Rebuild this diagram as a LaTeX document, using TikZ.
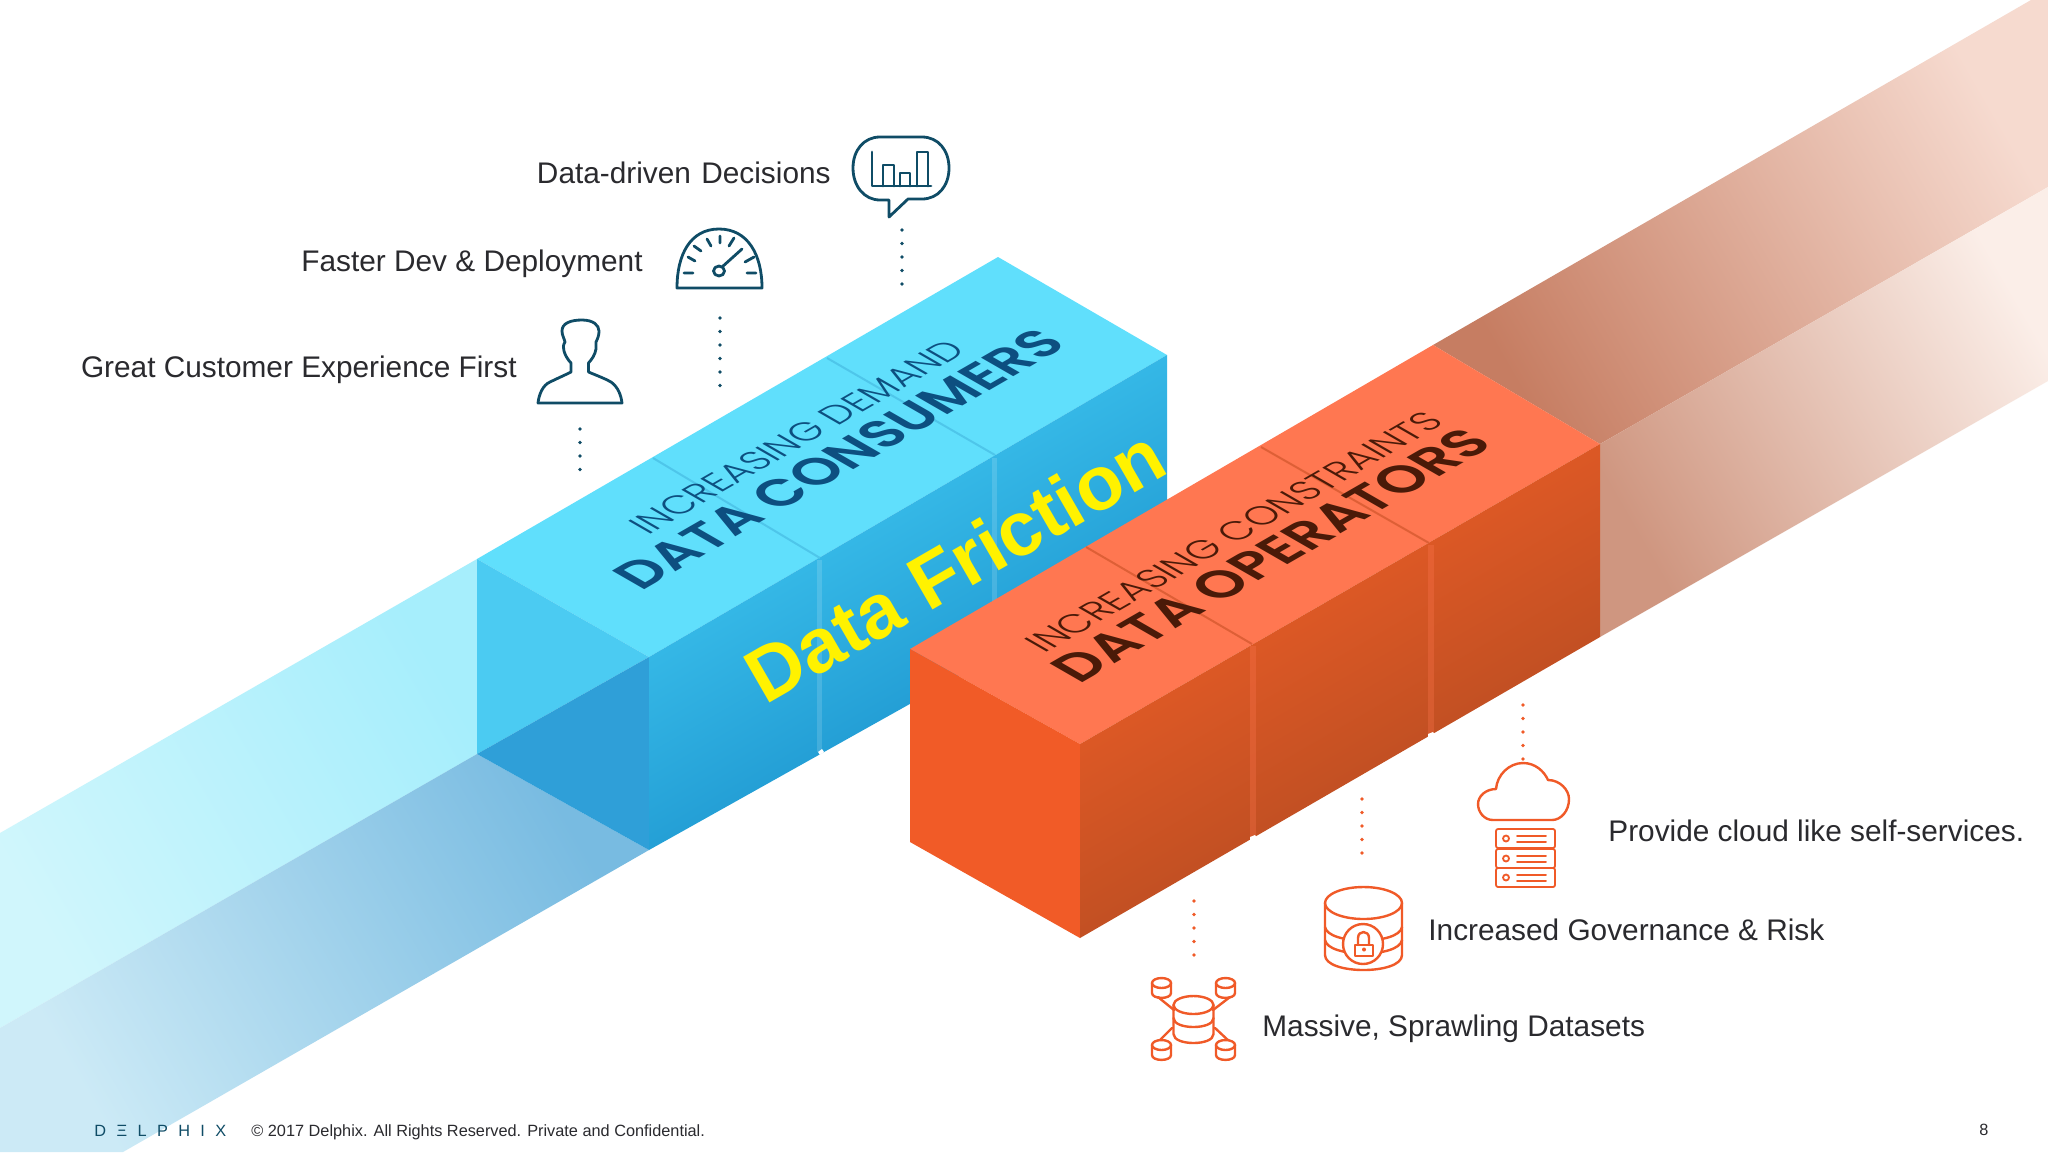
\documentclass[tikz,border=0pt]{standalone}
\usepackage{fontspec}
\setmainfont{Liberation Sans}
\newfontfamily\popf{Poppins SemiBold}
\newfontfamily\popl{Poppins Light}
\definecolor{bltop}{HTML}{60DFFC}
\definecolor{blleft}{HTML}{4BCBF2}
\definecolor{blleftd}{HTML}{2F9FD8}
\definecolor{blsa}{HTML}{45CFF6}
\definecolor{blsb}{HTML}{1488C6}
\definecolor{blline}{HTML}{4EC6EA}
\definecolor{bltxt}{HTML}{0D4F80}
\definecolor{ortop}{HTML}{FF7751}
\definecolor{orleft}{HTML}{F15B27}
\definecolor{orsa}{HTML}{F56028}
\definecolor{orsb}{HTML}{A94820}
\definecolor{orline}{HTML}{DE5F36}
\definecolor{ortxt}{HTML}{4A1A08}
\definecolor{tealc}{HTML}{0F4C66}
\definecolor{oric}{HTML}{F05A28}
\definecolor{txt}{HTML}{2A2A2E}
\definecolor{sa}{HTML}{A6EEFC}
\definecolor{sb}{HTML}{D0F6FC}
\definecolor{sc}{HTML}{78BBE1}
\definecolor{sd}{HTML}{CCEAF6}
\definecolor{se}{HTML}{C67D62}
\definecolor{sf}{HTML}{F6DACF}
\definecolor{sg}{HTML}{CF9680}
\definecolor{sh}{HTML}{FBEEE8}
\tikzset{
  lab/.style={anchor=base west,font=\fontsize{14.9}{18}\selectfont,text=txt,inner sep=0pt},
  labr/.style={anchor=base east,font=\fontsize{14.9}{18}\selectfont,text=txt,inner sep=0pt},
  foot/.style={anchor=base west,font=\fontsize{8.15}{10}\selectfont,text=txt,inner sep=0pt},
  tealic/.style={draw=tealc,line width=1.4pt,line join=round,line cap=round},
  oricon/.style={draw=oric,line width=1.2pt,line join=round,line cap=round},
  tealdots/.style={draw=tealc,line width=1.8pt,line cap=round,dash pattern=on 0pt off 6.75pt},
  ordots/.style={draw=oric,line width=1.8pt,line cap=round,dash pattern=on 0pt off 6.75pt},
  iso/.style={transform shape,inner sep=0pt,anchor=center},
}
\newcommand{\isotext}[5]{% x y name colour+font text
  \begin{scope}[shift={(#1,#2)},cm={0.868,0.5,-0.868,0.5,(0,0)}]
    \node[iso,#4] (#3) at (0,0) {#5};
  \end{scope}}
\newcommand{\minicyl}[2]{% centre x, top y of ellipse centre
  \draw[oricon,fill=white] (#1,#2) ellipse [x radius=9.5,y radius=5];
  \draw[oricon] (#1-9.5,#2) -- (#1-9.5,#2+10) .. controls (#1-9.5,#2+16.5) and (#1+9.5,#2+16.5) .. (#1+9.5,#2+10) -- (#1+9.5,#2);}
\begin{document}
\begin{tikzpicture}[x=0.5pt,y=-0.5pt]
\useasboundingbox (0,0) rectangle (2048,1152);
\fill[white] (0,0) rectangle (2048,1152);
% blue stream
\shade[top color=sb,bottom color=sa,shading angle=120] (477,559) -- (477,754) -- (0,1028) -- (0,833) -- cycle;
\shade[top color=sd,bottom color=sc,shading angle=120] (477,754) -- (649,850) -- (123,1152) -- (0,1152) -- (0,1028) -- cycle;
% orange stream
\shade[top color=sf,bottom color=se,shading angle=-60] (1433,345) -- (1600,444) -- (2048,187) -- (2048,0) -- (2031,0) -- cycle;
\shade[top color=sh,bottom color=sg,shading angle=-60] (1600,444) -- (1600,637) -- (2048,381) -- (2048,187) -- cycle;
% blue block
\fill[bltop] (477,559) -- (998,257) -- (1167,355) -- (649,657) -- cycle;
\fill[blleft] (477,559) -- (649,657) -- (477,754) -- cycle;
\fill[blleftd] (477,754) -- (649,657) -- (649,850) -- cycle;
\shade[top color=blsb,bottom color=blsa,shading angle=-150] (649,657) -- (1167,355) -- (1167,560) -- (649,850) -- cycle;
\fill[white,opacity=0.14] (817,560) rectangle (822,752);
\fill[white,opacity=0.14] (992,458) rectangle (997,650);
\fill[white] (818,752) -- (822,749) -- (824,752) -- (820,755) -- cycle;
\draw[blline,line width=1pt] (653,458) -- (820,558);
\draw[blline,line width=1pt] (827,358) -- (995,455);
% orange block
\fill[ortop] (910,649) -- (1433,345) -- (1600,444) -- (1080,744) -- cycle;
\fill[orleft] (910,649) -- (1080,744) -- (1080,938) -- (910,842) -- cycle;
\shade[top color=orsb,bottom color=orsa,shading angle=-150] (1080,744) -- (1600,444) -- (1600,637) -- (1080,938) -- cycle;
\fill[ortop,opacity=0.3] (1250,646) rectangle (1256,838);
\fill[ortop,opacity=0.3] (1428,545) rectangle (1434,734);
\fill[white] (1250,841) -- (1250,837) -- (1255,835) -- (1257,838) -- (1254,841) -- cycle;
\fill[white] (1428,738) -- (1428,734) -- (1433,732) -- (1435,735) -- cycle;
\draw[orline,line width=1pt] (1086,547) -- (1252,644);
\draw[orline,line width=1pt] (1261,447) -- (1429,543);
% isometric texts
\isotext{797}{437}{incdem}{text=bltxt,font=\popl\fontsize{18.3}{22}\selectfont}{INCREASING DEMAND}
\isotext{839}{459}{datacons}{text=bltxt,font=\popf\fontsize{26.6}{32}\selectfont}{DATA CONSUMERS}
\isotext{1234}{532}{inccons}{text=ortxt,font=\popl\fontsize{18.4}{22}\selectfont}{INCREASING CONSTRAINTS}
\isotext{1271}{555}{dataops}{text=ortxt,font=\popf\fontsize{27}{32}\selectfont}{DATA OPERATORS}
% friction
\node[rotate=30,text=yellow,font=\bfseries\fontsize{38.3}{46}\selectfont,inner sep=0pt] (friction) at (955,565) {Data Friction};
% labels
\node[labr] (l1) at (831,183) {Data-driven\hspace{5.2pt}Decisions};
\node[labr] (l2) at (643,271) {Faster Dev \& Deployment};
\node[labr] (l3) at (517,377) {Great Customer Experience First};
\node[lab] (l4) at (1608,841) {Provide cloud like self-services.};
\node[lab] (l5) at (1428,940) {Increased Governance \& Risk};
\node[lab] (l6) at (1262,1036) {Massive, Sprawling Datasets};
% footer
\node[foot,text=tealc] (logo) at (94,1136) {D\hspace{5.2pt}Ξ\hspace{5.2pt}L\hspace{5.2pt}P\hspace{5.2pt}H\hspace{5.2pt}I\hspace{5.2pt}X};
\node[foot] (copy) at (251,1136) {© 2017 Delphix. All Rights Reserved. Private and Confidential.};
\node[foot] (page) at (1979,1135) {8};
% teal dots
\coordinate (d1a) at (902,230); \coordinate (d1b) at (902,284.2);
\coordinate (d2a) at (720,318); \coordinate (d2b) at (720,386.2);
\coordinate (d3a) at (580,429); \coordinate (d3b) at (580,470.2);
\draw[tealdots] (d1a) -- (d1b);
\draw[tealdots] (d2a) -- (d2b);
\draw[tealdots] (d3a) -- (d3b);
% bubble icon
\draw[tealic] (889,217) -- (889,200) -- (880,200) .. controls (864,200) and (853,186) .. (853,168) .. controls (853,150) and (864,137) .. (880,137) -- (922,137) .. controls (938,137) and (949,150) .. (949,168) .. controls (949,186) and (938,199) .. (922,199) -- (908,199) -- cycle;
\draw[tealic] (872,152) -- (872,186) -- (931,186);
\draw[tealic] (883,186) -- (883,165) -- (894,165) -- (894,186);
\draw[tealic] (900,186) -- (900,173) -- (910,173) -- (910,186);
\draw[tealic] (917,186) -- (917,152) -- (928,152) -- (928,186);
% gauge icon
\draw[tealic] (677,288) -- (762,288) .. controls (762,255) and (748,229) .. (719,229) .. controls (690,229) and (677,255) .. (677,288) -- cycle;
\draw[tealic] (719,271) ellipse [x radius=5.5,y radius=5];
\draw[tealic] (722,267) -- (742,249);
\draw[tealic] (684,273) -- (693,273) (688,257) -- (695,261) (694,246) -- (701,251) (707,239) -- (711,246) (720,236) -- (720,243) (734,238) -- (729,246) (754,257) -- (745,262) (756,273) -- (747,273);
% person icon
\draw[tealic] (538,403) -- (622,403) .. controls (621,395) and (618,387) .. (611,382) .. controls (606,379) and (598,376) .. (588.5,372) -- (588.5,363) .. controls (592,359) and (595,355) .. (596,349) .. controls (596.5,346) and (595.5,345) .. (596,342) .. controls (598,338) and (599,335) .. (599,331) .. controls (599,325) and (593,320) .. (582,320) .. controls (571,320) and (562,323) .. (562,331) .. controls (562,335) and (564,338) .. (565,342) .. controls (563,345) and (563,348) .. (564,351) .. controls (565,355) and (568,360) .. (571,363) -- (571,372) .. controls (563,376) and (556,379) .. (550,382) .. controls (543,385) and (539,394) .. (538,403) -- cycle;
% orange dots
\coordinate (d4a) at (1523,705); \coordinate (d4b) at (1523,759.2);
\coordinate (d5a) at (1362,799); \coordinate (d5b) at (1362,853.2);
\coordinate (d6a) at (1194,901); \coordinate (d6b) at (1194,955.2);
\draw[ordots] (d4a) -- (d4b);
\draw[ordots] (d5a) -- (d5b);
\draw[ordots] (d6a) -- (d6b);
% cloud icon
\draw[oricon] (1493,820) .. controls (1484,820) and (1478,812) .. (1478,804) .. controls (1478,796) and (1486,789) .. (1496,789) .. controls (1497,775) and (1509,763) .. (1523,763) .. controls (1535,763) and (1544,771) .. (1548,780) .. controls (1560,780) and (1569,790) .. (1569,799) .. controls (1569,811) and (1561,820) .. (1552,820) -- cycle;
% server rows
\foreach \y in {829,849,868}{
  \draw[oricon,line width=0.9pt,rounded corners=1pt] (1496,\y) rectangle (1555,\y+19);
  \draw[oricon,line width=0.9pt] (1506,\y+9.5) circle [radius=3];
  \draw[oricon,line width=0.9pt] (1517,\y+7) -- (1546,\y+7) (1517,\y+13) -- (1546,\y+13);
}
% lock database icon
\draw[oricon] (1363.5,903) ellipse [x radius=38.5,y radius=16];
\draw[oricon] (1325,903) -- (1325,955) .. controls (1325,975) and (1402,975) .. (1402,955) -- (1402,903);
\draw[oricon] (1325,927) .. controls (1328,945) and (1399,945) .. (1402,927);
\draw[oricon] (1325,940) .. controls (1328,958) and (1399,958) .. (1402,940);
\draw[oricon,fill=white] (1363,944) circle [radius=20];
\draw[oricon] (1355,945) rectangle (1373,956);
\draw[oricon] (1358,945) -- (1358,938) .. controls (1358,930) and (1369,930) .. (1369,938) -- (1369,945);
\fill[oric] (1364,949.5) circle [radius=2];
% network database icon
\draw[oricon] (1158,997) -- (1174,1010) (1230,997) -- (1213,1010) (1172,1028) -- (1158,1042) (1215,1028) -- (1230,1042);
\draw[oricon,fill=white] (1193.5,1005) ellipse [x radius=20,y radius=9];
\draw[oricon] (1173.5,1005) -- (1173.5,1034) .. controls (1173.5,1046) and (1213.5,1046) .. (1213.5,1034) -- (1213.5,1005);
\draw[oricon] (1173.5,1018) .. controls (1173.5,1030) and (1213.5,1030) .. (1213.5,1018);
\minicyl{1161.5}{983}
\minicyl{1225.5}{983}
\minicyl{1161.5}{1045}
\minicyl{1225.5}{1045}
\end{tikzpicture}
\end{document}
